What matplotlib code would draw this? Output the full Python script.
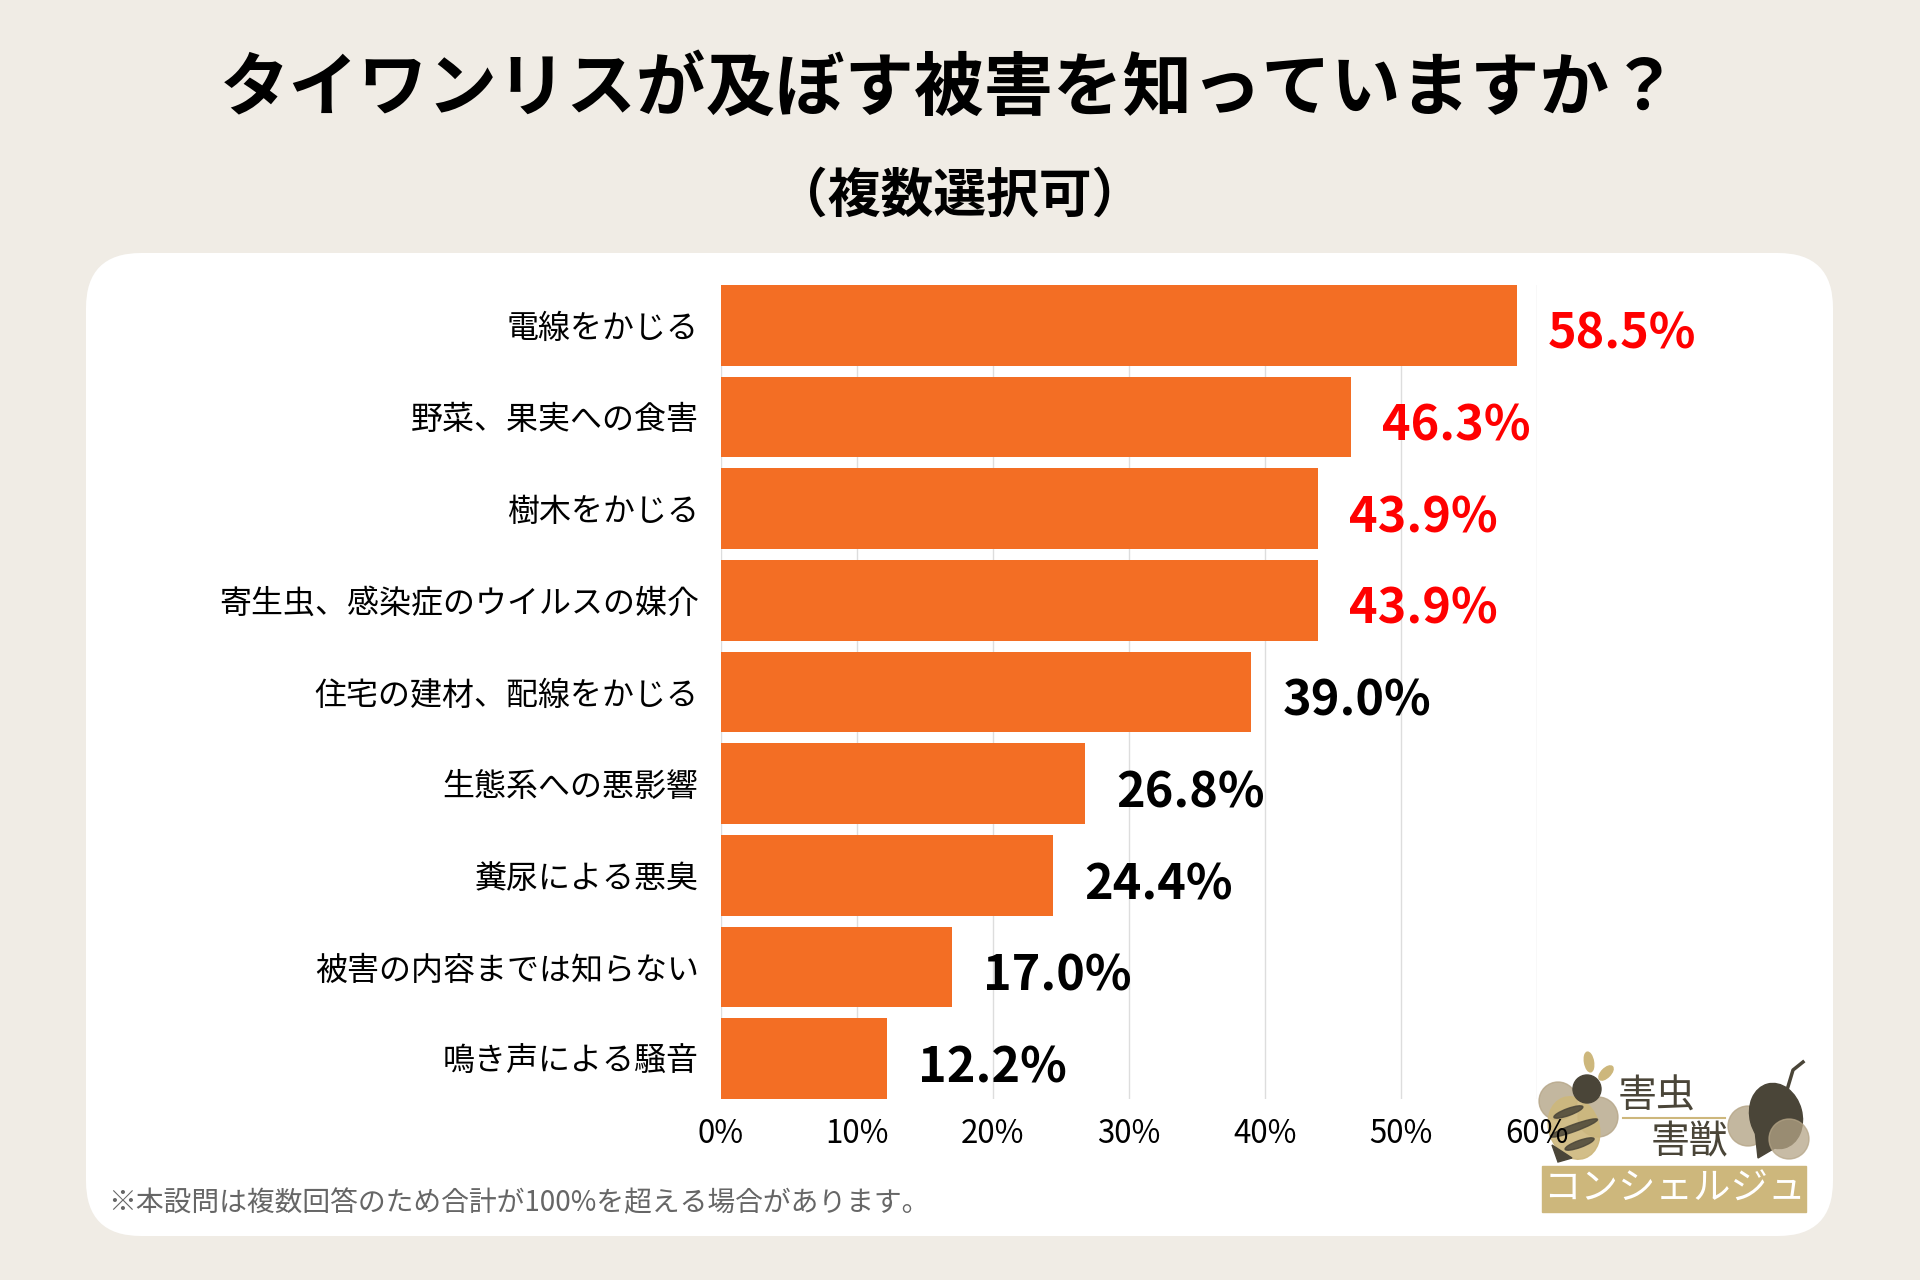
import matplotlib
matplotlib.use('Agg')
import matplotlib.pyplot as plt
from matplotlib.patches import FancyBboxPatch, Circle, Ellipse, Rectangle, Polygon

plt.rcParams['font.family'] = ['Noto Sans CJK JP', 'DejaVu Sans']

# data
categories = ['電線をかじる', '野菜、果実への食害', '樹木をかじる', '寄生虫、感染症のウイルスの媒介',
              '住宅の建材、配線をかじる', '生態系への悪影響', '糞尿による悪臭',
              '被害の内容までは知らない', '鳴き声による騒音']
values = [58.5, 46.3, 43.9, 43.9, 39.0, 26.8, 24.4, 17.0, 12.2]
highlight = [True, True, True, True, False, False, False, False, False]
xticks = [0, 10, 20, 30, 40, 50, 60]

title = 'タイワンリスが及ぼす被害を知っていますか？'
subtitle = '（複数選択可）'
note = '※本設問は複数回答のため合計が100%を超える場合があります。'

bg_color = '#F0ECE5'
bar_color = '#F36E24'
logo_dark = '#4A4538'
logo_tan = '#B5A587'
logo_gold = '#CDB77C'

W, H = 1920, 1280
fig = plt.figure(figsize=(W / 100, H / 100), dpi=100)
fig.patch.set_facecolor(bg_color)

# background layer in pixel coordinates (y down)
bg = fig.add_axes([0, 0, 1, 1])
bg.set_xlim(0, W)
bg.set_ylim(H, 0)
bg.axis('off')

panel = FancyBboxPatch((86, 253), 1747, 983, boxstyle='round,pad=0,rounding_size=55',
                       facecolor='white', edgecolor='none')
bg.add_patch(panel)

bg.text(950, 90, title, ha='center', va='center', fontsize=50, fontweight='bold', color='black')
bg.text(960, 196, subtitle, ha='center', va='center', fontsize=38, fontweight='bold', color='black')
bg.text(108, 1203, note, ha='left', va='center', fontsize=20, color='#666666')

# logo (rough)
bg.add_patch(Ellipse((1589, 1062), 9, 20, angle=-10, color=logo_gold))
bg.add_patch(Ellipse((1606, 1073), 9, 18, angle=45, color=logo_gold))
bg.add_patch(Circle((1558, 1101), 19, color=logo_tan, alpha=0.8))
bg.add_patch(Circle((1598, 1117), 20, color=logo_tan, alpha=0.8))
bg.add_patch(Ellipse((1574, 1128), 50, 64, angle=-20, color=logo_gold, alpha=0.9))
for dy in (-16, 0, 16):
    bg.add_patch(Ellipse((1574 + dy * 0.35, 1128 + dy), 50 - abs(dy) * 1.2, 7, angle=-20,
                         color=logo_dark, alpha=0.85))
bg.add_patch(Polygon([(1552, 1145), (1572, 1158), (1558, 1162)], color=logo_dark))
bg.add_patch(Circle((1587, 1089), 14, color=logo_dark))
bg.text(1657, 1097, '害虫', ha='center', va='center', fontsize=28, color=logo_dark)
bg.plot([1623, 1725], [1118, 1118], color=logo_gold, lw=1.5)
bg.text(1690, 1142, '害獣', ha='center', va='center', fontsize=28, color=logo_dark)
bg.add_patch(Circle((1748, 1126), 20, color=logo_tan, alpha=0.8))
bg.add_patch(Ellipse((1776, 1116), 52, 66, angle=-15, color=logo_dark))
bg.add_patch(Polygon([(1755, 1130), (1780, 1145), (1758, 1158)], color=logo_dark))
bg.add_patch(Circle((1789, 1139), 20, color=logo_tan, alpha=0.75))
bg.plot([1787, 1793, 1803], [1090, 1070, 1062], color=logo_dark, lw=2.5)
bg.add_patch(Rectangle((1542, 1166), 264, 46, color=logo_gold))
bg.text(1674, 1189, 'コンシェルジュ', ha='center', va='center', fontsize=27, color='white')

# chart axes
ax = fig.add_axes([721 / W, 1 - 1099 / H, 816 / W, 814 / H])
ax.set_facecolor('none')
ypos = list(range(len(categories)))
ax.barh(ypos, values, height=0.88, color=bar_color, zorder=2)
ax.set_xlim(0, 60)
ax.set_ylim(len(categories) - 0.56, -0.44)
ax.set_xticks(xticks)
ax.set_xticklabels([f'{t}%' for t in xticks], fontsize=22.5)
ax.set_yticks(ypos)
ax.set_yticklabels(categories, fontsize=23)
ax.tick_params(axis='both', length=0)
ax.tick_params(axis='y', pad=16)
ax.tick_params(axis='x', pad=14)
ax.grid(axis='x', color='#DDDDDD', lw=1, zorder=0)
for s in ax.spines.values():
    s.set_visible(False)

for y, v, hl in zip(ypos, values, highlight):
    ax.text(v + 2.3, y + 0.1, f'{v:.1f}%', ha='left', va='center', fontsize=35,
            fontweight='bold', color='#FF0000' if hl else 'black', zorder=3)

fig.savefig('out.png', dpi=100, facecolor=bg_color)
